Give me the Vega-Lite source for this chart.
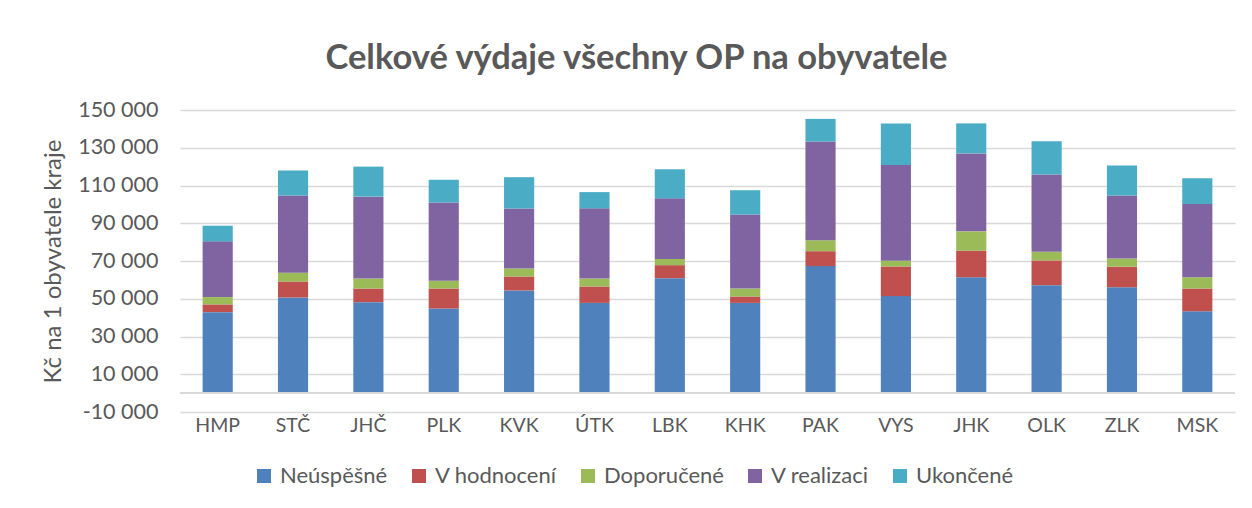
{
  "$schema": "https://vega.github.io/schema/vega-lite/v6.json",
  "autosize": {"type": "none"},
  "width": 1055,
  "height": 302,
  "padding": {"left": 180, "top": 110, "right": 17, "bottom": 96},
  "background": "white",
  "config": {
    "font": "Lato",
    "view": {"stroke": null}
  },
  "title": {
    "text": "Celkové výdaje všechny OP na obyvatele",
    "fontSize": 34.5,
    "fontWeight": "bold",
    "color": "#595959",
    "anchor": "middle",
    "frame": "group",
    "dx": -71,
    "offset": 23
  },
  "data": {
    "values": [
      {"kraj": "HMP", "stav": "Neúspěšné", "hodnota": 42900},
      {"kraj": "HMP", "stav": "V hodnocení", "hodnota": 4100},
      {"kraj": "HMP", "stav": "Doporučené", "hodnota": 3900},
      {"kraj": "HMP", "stav": "V realizaci", "hodnota": 29500},
      {"kraj": "HMP", "stav": "Ukončené", "hodnota": 8300},
      {"kraj": "STČ", "stav": "Neúspěšné", "hodnota": 50700},
      {"kraj": "STČ", "stav": "V hodnocení", "hodnota": 8500},
      {"kraj": "STČ", "stav": "Doporučené", "hodnota": 4600},
      {"kraj": "STČ", "stav": "V realizaci", "hodnota": 40900},
      {"kraj": "STČ", "stav": "Ukončené", "hodnota": 13200},
      {"kraj": "JHČ", "stav": "Neúspěšné", "hodnota": 48200},
      {"kraj": "JHČ", "stav": "V hodnocení", "hodnota": 7200},
      {"kraj": "JHČ", "stav": "Doporučené", "hodnota": 5300},
      {"kraj": "JHČ", "stav": "V realizaci", "hodnota": 43400},
      {"kraj": "JHČ", "stav": "Ukončené", "hodnota": 15900},
      {"kraj": "PLK", "stav": "Neúspěšné", "hodnota": 44800},
      {"kraj": "PLK", "stav": "V hodnocení", "hodnota": 10600},
      {"kraj": "PLK", "stav": "Doporučené", "hodnota": 4100},
      {"kraj": "PLK", "stav": "V realizaci", "hodnota": 41500},
      {"kraj": "PLK", "stav": "Ukončené", "hodnota": 12000},
      {"kraj": "KVK", "stav": "Neúspěšné", "hodnota": 54400},
      {"kraj": "KVK", "stav": "V hodnocení", "hodnota": 7400},
      {"kraj": "KVK", "stav": "Doporučené", "hodnota": 4200},
      {"kraj": "KVK", "stav": "V realizaci", "hodnota": 31800},
      {"kraj": "KVK", "stav": "Ukončené", "hodnota": 16600},
      {"kraj": "ÚTK", "stav": "Neúspěšné", "hodnota": 47800},
      {"kraj": "ÚTK", "stav": "V hodnocení", "hodnota": 8700},
      {"kraj": "ÚTK", "stav": "Doporučené", "hodnota": 4200},
      {"kraj": "ÚTK", "stav": "V realizaci", "hodnota": 37200},
      {"kraj": "ÚTK", "stav": "Ukončené", "hodnota": 8600},
      {"kraj": "LBK", "stav": "Neúspěšné", "hodnota": 60900},
      {"kraj": "LBK", "stav": "V hodnocení", "hodnota": 6900},
      {"kraj": "LBK", "stav": "Doporučené", "hodnota": 3300},
      {"kraj": "LBK", "stav": "V realizaci", "hodnota": 32100},
      {"kraj": "LBK", "stav": "Ukončené", "hodnota": 15400},
      {"kraj": "KHK", "stav": "Neúspěšné", "hodnota": 47800},
      {"kraj": "KHK", "stav": "V hodnocení", "hodnota": 3400},
      {"kraj": "KHK", "stav": "Doporučené", "hodnota": 4200},
      {"kraj": "KHK", "stav": "V realizaci", "hodnota": 39200},
      {"kraj": "KHK", "stav": "Ukončené", "hodnota": 12900},
      {"kraj": "PAK", "stav": "Neúspěšné", "hodnota": 67300},
      {"kraj": "PAK", "stav": "V hodnocení", "hodnota": 7900},
      {"kraj": "PAK", "stav": "Doporučené", "hodnota": 5800},
      {"kraj": "PAK", "stav": "V realizaci", "hodnota": 52300},
      {"kraj": "PAK", "stav": "Ukončené", "hodnota": 12000},
      {"kraj": "VYS", "stav": "Neúspěšné", "hodnota": 51400},
      {"kraj": "VYS", "stav": "V hodnocení", "hodnota": 15700},
      {"kraj": "VYS", "stav": "Doporučené", "hodnota": 3000},
      {"kraj": "VYS", "stav": "V realizaci", "hodnota": 50700},
      {"kraj": "VYS", "stav": "Ukončené", "hodnota": 22100},
      {"kraj": "JHK", "stav": "Neúspěšné", "hodnota": 61400},
      {"kraj": "JHK", "stav": "V hodnocení", "hodnota": 14100},
      {"kraj": "JHK", "stav": "Doporučené", "hodnota": 10200},
      {"kraj": "JHK", "stav": "V realizaci", "hodnota": 41300},
      {"kraj": "JHK", "stav": "Ukončené", "hodnota": 15900},
      {"kraj": "OLK", "stav": "Neúspěšné", "hodnota": 57200},
      {"kraj": "OLK", "stav": "V hodnocení", "hodnota": 13100},
      {"kraj": "OLK", "stav": "Doporučené", "hodnota": 4600},
      {"kraj": "OLK", "stav": "V realizaci", "hodnota": 40900},
      {"kraj": "OLK", "stav": "Ukončené", "hodnota": 17700},
      {"kraj": "ZLK", "stav": "Neúspěšné", "hodnota": 56100},
      {"kraj": "ZLK", "stav": "V hodnocení", "hodnota": 10900},
      {"kraj": "ZLK", "stav": "Doporučené", "hodnota": 4300},
      {"kraj": "ZLK", "stav": "V realizaci", "hodnota": 33400},
      {"kraj": "ZLK", "stav": "Ukončené", "hodnota": 15900},
      {"kraj": "MSK", "stav": "Neúspěšné", "hodnota": 43400},
      {"kraj": "MSK", "stav": "V hodnocení", "hodnota": 12000},
      {"kraj": "MSK", "stav": "Doporučené", "hodnota": 6000},
      {"kraj": "MSK", "stav": "V realizaci", "hodnota": 38800},
      {"kraj": "MSK", "stav": "Ukončené", "hodnota": 13600}
    ]
  },
  "layer": [
    {
      "transform": [
        {"window": [{"op": "row_number", "as": "poradi"}], "groupby": ["kraj"]}
      ],
      "mark": {"type": "bar"},
      "encoding": {
        "x": {
          "field": "kraj",
          "type": "nominal",
          "sort": null,
          "scale": {"paddingInner": 0.6, "paddingOuter": 0.3},
          "axis": {
            "title": null,
            "labelAngle": 0,
            "ticks": false,
            "domain": false,
            "labelFontSize": 19.5,
            "labelColor": "#595959",
            "labelPadding": 4
          }
        },
        "y": {
          "field": "hodnota",
          "type": "quantitative",
          "stack": "zero",
          "scale": {"domain": [-10000, 150000], "nice": false, "zero": false},
          "axis": {
            "values": [-10000, 10000, 30000, 50000, 70000, 90000, 110000, 130000, 150000],
            "tickCount": 20,
            "labelExpr": "replace(replace(format(datum.value, ','), ',', ' '), '−', '-')",
            "labelOverlap": false,
            "title": "Kč na 1 obyvatele kraje",
            "titleFontSize": 24,
            "titleFontWeight": "normal",
            "titleColor": "#595959",
            "titlePadding": 12,
            "labelFontSize": 21.5,
            "labelColor": "#595959",
            "labelPadding": 22,
            "ticks": false,
            "domain": false,
            "grid": true,
            "gridColor": "#d9d9d9",
            "gridWidth": 1.5
          }
        },
        "color": {
          "field": "stav",
          "type": "nominal",
          "sort": ["Neúspěšné", "V hodnocení", "Doporučené", "V realizaci", "Ukončené"],
          "scale": {
            "domain": ["Neúspěšné", "V hodnocení", "Doporučené", "V realizaci", "Ukončené"],
            "range": ["#4f81bd", "#c0504d", "#9bbb59", "#8064a2", "#4bacc6"]
          },
          "legend": {
            "title": null,
            "orient": "none",
            "direction": "horizontal",
            "legendX": 73,
            "legendY": 355,
            "symbolType": "square",
            "symbolSize": 196,
            "symbolStrokeWidth": 0,
            "labelFontSize": 22,
            "labelColor": "#595959",
            "labelOffset": 5,
            "columnPadding": 20
          }
        },
        "order": {"field": "poradi", "sort": "ascending"}
      }
    },
    {
      "mark": {"type": "rule", "color": "#d9d9d9", "strokeWidth": 1.5},
      "encoding": {"y": {"datum": 0}}
    }
  ]
}
